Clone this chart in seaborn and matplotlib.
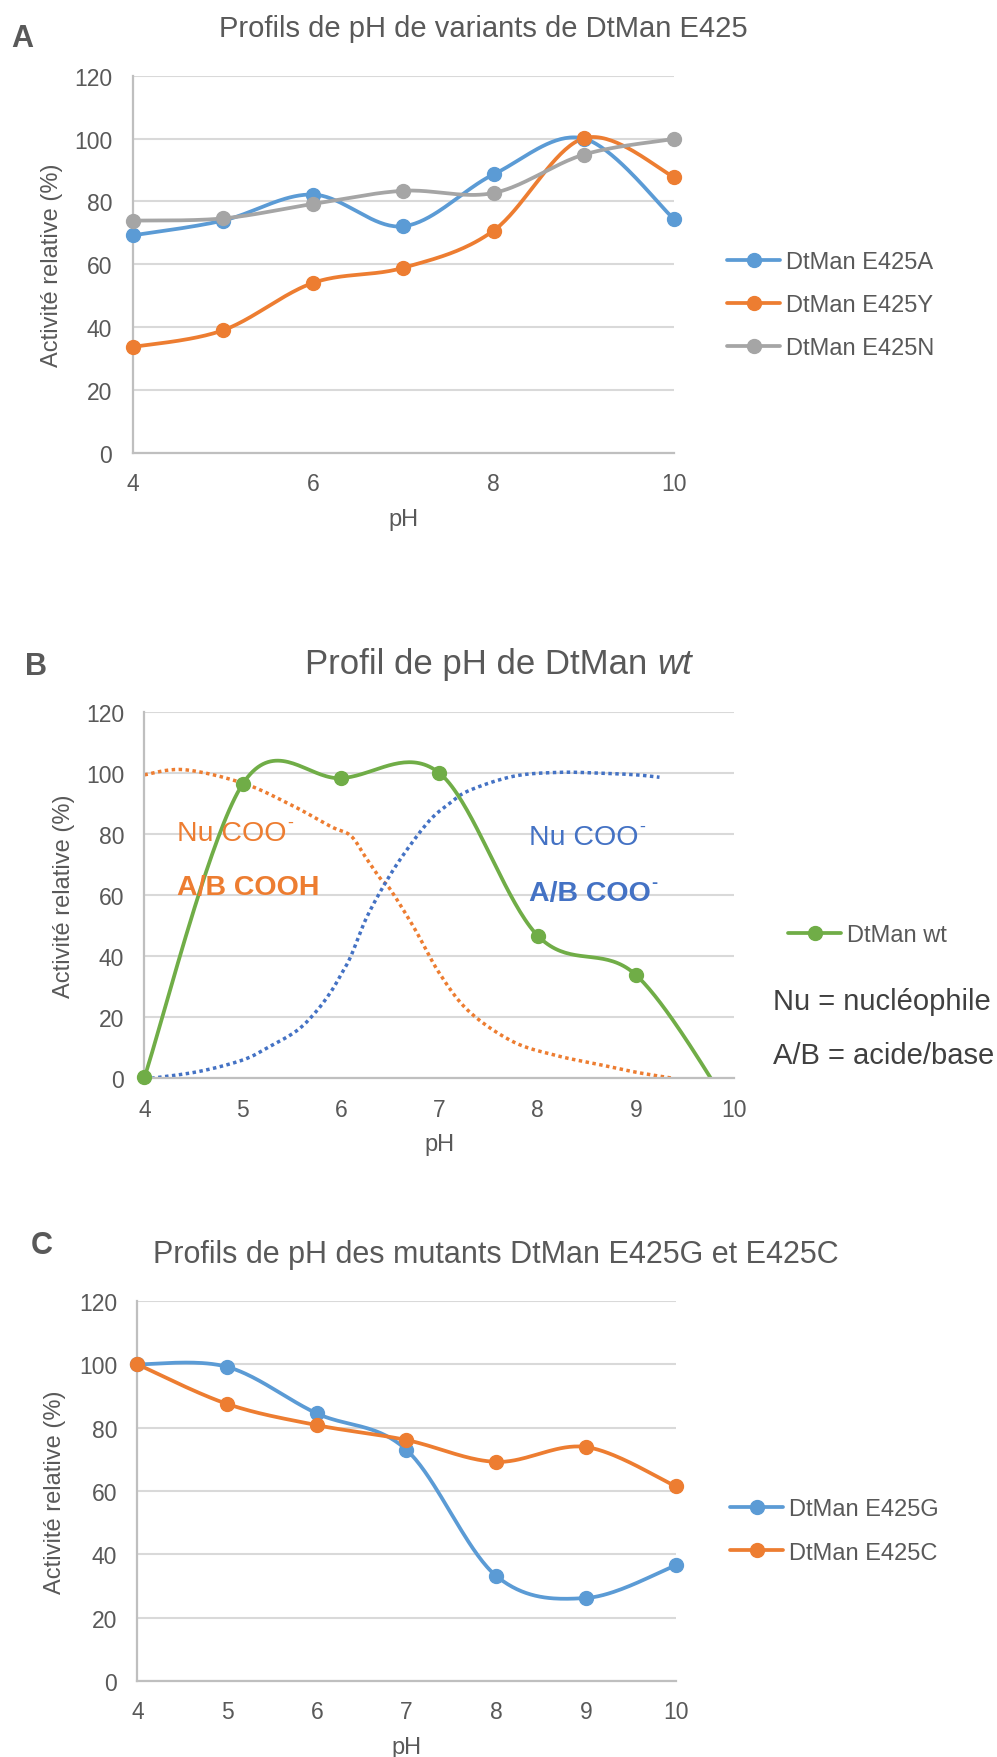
import numpy as np
import matplotlib
matplotlib.use("Agg")
import matplotlib.pyplot as plt
from matplotlib.lines import Line2D
import seaborn as sns

# ---------------- data ----------------
ph = [4, 5, 6, 7, 8, 9, 10]

# Panel A
a_e425a = [69.2, 73.9, 82.2, 72.1, 88.6, 100.0, 74.4]
a_e425y = [33.7, 39.0, 54.1, 58.9, 70.7, 100.1, 87.8]
a_e425n = [73.9, 74.6, 79.2, 83.4, 82.7, 94.9, 99.9]
a_labels = ["DtMan E425A", "DtMan E425Y", "DtMan E425N"]

# Panel B
b_wt = [0.3, 96.5, 98.4, 100.1, 46.8, 33.9, -12.0]
b_wt_label = "DtMan wt"
b_acid_x = [4.0, 4.4, 5.0, 5.5, 5.9, 6.1, 6.25, 6.4, 6.5, 6.75, 7.0, 7.3, 7.75, 8.2, 8.6, 9.0, 9.38]
b_acid_y = [99.5, 101.2, 96.8, 89.5, 82.5, 79.5, 72.5, 65.5, 62.0, 49.0, 34.5, 22.0, 12.0, 7.4, 4.7, 2.0, 0.0]
b_base_x = [4.07, 4.55, 5.0, 5.25, 5.55, 5.75, 5.9, 6.0, 6.1, 6.25, 6.45, 6.65, 6.9, 7.1, 7.3, 7.75, 8.2, 8.6, 9.0, 9.24]
b_base_y = [0.0, 2.2, 6.0, 10.0, 15.6, 22.0, 28.5, 34.0, 40.0, 52.0, 64.0, 74.0, 84.5, 90.0, 94.3, 99.0, 100.3, 100.1, 99.5, 98.7]

# Panel C
c_e425g = [100.0, 99.2, 84.5, 73.0, 33.2, 26.2, 36.5]
c_e425c = [100.0, 87.5, 80.8, 76.1, 69.2, 73.9, 61.5]
c_labels = ["DtMan E425G", "DtMan E425C"]

titles = ["Profils de pH de variants de DtMan E425",
          "Profil de pH de DtMan ",
          "Profils de pH des mutants DtMan E425G et E425C"]
ylab = "Activité relative (%)"
xlab = "pH"

# ---------------- style ----------------
sns.set_theme(style="white")
plt.rcParams["font.family"] = ["Liberation Sans", "DejaVu Sans"]

BLUE = "#5B9BD5"
ORANGE = "#ED7D31"
GRAY = "#A5A5A5"
GREEN = "#70AD47"
DBLUE = "#4472C4"
TXT = "#595959"
GRID = "#D9D9D9"
AXC = "#BFBFBF"

W, H = 997, 1758
fig = plt.figure(figsize=(W / 100, H / 100), dpi=100)


def excel_smooth(x, y, n=40):
    P = np.column_stack([x, y]).astype(float)
    E = np.vstack([P[0], P, P[-1]])
    t = np.linspace(0, 1, n)[:, None]
    segs = []
    for i in range(len(P) - 1):
        p0, p1, p2, p3 = E[i], E[i + 1], E[i + 2], E[i + 3]
        c1 = p1 + (p2 - p0) / 6
        c2 = p2 - (p3 - p1) / 6
        B = ((1 - t) ** 3) * p1 + 3 * ((1 - t) ** 2) * t * c1 + 3 * (1 - t) * t ** 2 * c2 + t ** 3 * p2
        segs.append(B if i == len(P) - 2 else B[:-1])
    S = np.vstack(segs)
    return S[:, 0], S[:, 1]


def make_axes(left, right, top, bottom):
    return fig.add_axes([left / W, 1 - bottom / H, (right - left) / W, (bottom - top) / H])


def style_axes(ax, xticks, label_x_px, left, right, top, bottom):
    ax.set_xlim(4, 10)
    ax.set_ylim(0, 120)
    ax.set_yticks(range(0, 121, 20))
    ax.set_xticks(xticks)
    ax.grid(axis="y", color=GRID, lw=1.5)
    ax.grid(axis="x", visible=False)
    ax.set_axisbelow(True)
    for s in ["top", "right"]:
        ax.spines[s].set_visible(False)
    for s in ["left", "bottom"]:
        ax.spines[s].set_color(AXC)
        ax.spines[s].set_linewidth(1.6)
    ax.tick_params(axis="both", length=0, labelsize=16.5, labelcolor=TXT)
    ax.tick_params(axis="y", pad=14.5)
    ax.tick_params(axis="x", pad=14)
    ax.set_xlabel(xlab, fontsize=17, color=TXT, va="center")
    ax.xaxis.set_label_coords(0.5, -66 / (bottom - top))
    ax.set_ylabel(ylab, fontsize=17, color=TXT, va="center", ha="center")
    ax.yaxis.set_label_coords((label_x_px - left) / (right - left), 0.5)


def draw_series(ax, x, y, color, lw=2.7, ms=10):
    sx, sy = excel_smooth(x, y)
    sns.lineplot(x=sx, y=sy, ax=ax, color=color, lw=lw, sort=False, estimator=None)
    ax.plot(x, y, ls="none", marker="o", ms=ms, color=color, clip_on=False, zorder=4)


def handle(color, lw=2.7, ms=10):
    return Line2D([], [], color=color, lw=lw, marker="o", ms=ms)


def add_legend(ax, colors, labels, x_px, y_px):
    ax.legend(handles=[handle(c) for c in colors], labels=labels,
              loc="center left", bbox_to_anchor=(x_px / W, 1 - y_px / H), bbox_transform=fig.transFigure,
              frameon=False, borderpad=0, borderaxespad=0, handlelength=2.25, handletextpad=0.25,
              labelspacing=0.89, fontsize=17, labelcolor=TXT)


# ---------------- Panel A ----------------
L, R, T, B = 132.5, 674, 76.7, 454
axA = make_axes(L, R, T, B)
for yv, col in zip([a_e425a, a_e425y, a_e425n], [BLUE, ORANGE, GRAY]):
    draw_series(axA, ph, yv, col)
style_axes(axA, [4, 6, 8, 10], 52, L, R, T, B)
add_legend(axA, [BLUE, ORANGE, GRAY], a_labels, 727, 306)
fig.text(483 / W, 1 - 37 / H, titles[0], fontsize=21, color=TXT, ha="center", va="baseline")
fig.text(11 / W, 1 - 47 / H, "A", fontsize=22, fontweight="bold", color=TXT, ha="left", va="baseline")

# ---------------- Panel B ----------------
L, R, T, B = 144.4, 734.2, 713.3, 1079.3
axB = make_axes(L, R, T, B)
sx, sy = excel_smooth(b_acid_x, b_acid_y)
sns.lineplot(x=sx, y=sy, ax=axB, color=ORANGE, lw=2.5, sort=False, estimator=None, ls=(0, (1, 1)))
sx, sy = excel_smooth(b_base_x, b_base_y)
sns.lineplot(x=sx, y=sy, ax=axB, color=DBLUE, lw=2.5, sort=False, estimator=None, ls=(0, (1, 1)))
sx, sy = excel_smooth(ph, b_wt)
sns.lineplot(x=sx, y=sy, ax=axB, color=GREEN, lw=2.7, sort=False, estimator=None)
axB.plot(ph[:-1], b_wt[:-1], ls="none", marker="o", ms=10, color=GREEN, clip_on=False, zorder=4)
for ln in axB.lines:
    ln.set_dash_capstyle("butt")
style_axes(axB, ph, 64, L, R, T, B)
add_legend(axB, [GREEN], [b_wt_label], 788, 936)

ann = [
    (4.33, 78.2, "Nu COO", ORANGE, "normal"),
    (4.33, 60.4, "A/B COOH", ORANGE, "bold"),
    (7.91, 76.8, "Nu COO", DBLUE, "normal"),
    (7.91, 58.6, "A/B COO", DBLUE, "bold"),
]
ann_texts = []
for x, y, s, c, w in ann:
    ann_texts.append(axB.text(x, y, s, fontsize=20.5, color=c, fontweight=w, ha="left", va="baseline"))

fig.text(773 / W, 1 - 1010 / H, "Nu = nucléophile", fontsize=21, color="#404040", ha="left", va="baseline")
fig.text(773 / W, 1 - 1064 / H, "A/B = acide/base", fontsize=21, color="#404040", ha="left", va="baseline")
tB = fig.text(305 / W, 1 - 674 / H, titles[1], fontsize=25, color=TXT, ha="left", va="baseline")
fig.text(25 / W, 1 - 675 / H, "B", fontsize=22, fontweight="bold", color=TXT, ha="left", va="baseline")

# ---------------- Panel C ----------------
L, R, T, B = 137.4, 675.5, 1302, 1682
axC = make_axes(L, R, T, B)
for yv, col in zip([c_e425g, c_e425c], [BLUE, ORANGE]):
    draw_series(axC, ph, yv, col)
style_axes(axC, ph, 55, L, R, T, B)
add_legend(axC, [BLUE, ORANGE], c_labels, 730, 1532)
fig.text(153 / W, 1 - 1263 / H, titles[2], fontsize=22, color=TXT, ha="left", va="baseline")
fig.text(31 / W, 1 - 1254 / H, "C", fontsize=22, fontweight="bold", color=TXT, ha="left", va="baseline")

# superscript signs and italic "wt", placed after measuring text extents
fig.canvas.draw()
for (x, y, s, c, w), t in zip(ann, ann_texts):
    if s.endswith("COO"):
        bb = t.get_window_extent()
        base = axB.transData.transform((x, y))[1]
        fig.text((bb.x1 + 1) / W, (base + 13) / H, "-", fontsize=13, color=c,
                 fontweight=w, ha="left", va="baseline")
bb = tB.get_window_extent()
fig.text(bb.x1 / W, 1 - 674 / H, "wt", fontsize=25, color=TXT, style="italic", ha="left", va="baseline")

fig.savefig("out.png", dpi=100, facecolor="white")
